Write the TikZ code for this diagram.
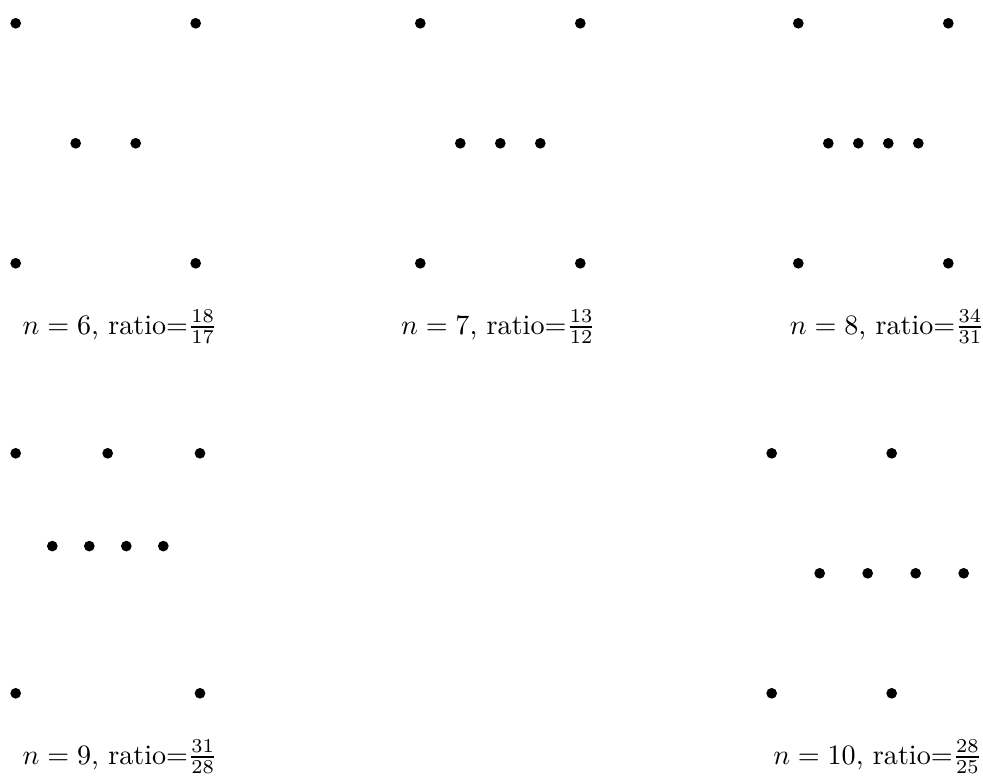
\documentclass[tikz,border=0pt]{standalone}
\begin{document}
\begin{tikzpicture}[vtx/.style={circle, fill=black, inner sep=0pt, minimum size=3.8pt}]

\useasboundingbox (0,0) rectangle (12.2875,-9.775);

\def\top{-0.291}
\def\low{-5.666}

% n = 6
\begin{scope}[shift={(0.196,\top)}]
\node[vtx] (s1) at (0,0) {};
\node[vtx] (s2) at (2.25,0) {};
\node[vtx] (s3) at (0,-3) {};
\node[vtx] (s4) at (2.25,-3) {};
\foreach \i in {1,2}
  \node[vtx] (sm\i) at (0.75*\i,-1.5) {};
\end{scope}
\node[anchor=base] (lab6) at (1.5,-4.175) {$n=6$, ratio=$\frac{18}{17}$};

% n = 7
\begin{scope}[shift={(5.254,\top)}]
\node[vtx] (t1) at (0,0) {};
\node[vtx] (t2) at (2,0) {};
\node[vtx] (t3) at (0,-3) {};
\node[vtx] (t4) at (2,-3) {};
\foreach \i in {1,2,3}
  \node[vtx] (tm\i) at (0.5*\i,-1.5) {};
\end{scope}
\node[anchor=base] (lab7) at (6.23,-4.175) {$n=7$, ratio=$\frac{13}{12}$};

% n = 8
\begin{scope}[shift={(9.979,\top)}]
\node[vtx] (e1) at (0,0) {};
\node[vtx] (e2) at (1.875,0) {};
\node[vtx] (e3) at (0,-3) {};
\node[vtx] (e4) at (1.875,-3) {};
\foreach \i in {1,...,4}
  \node[vtx] (em\i) at (0.375*\i,-1.5) {};
\end{scope}
\node[anchor=base] (lab8) at (11.09,-4.175) {$n=8$, ratio=$\frac{34}{31}$};

% n = 9
\begin{scope}[shift={(0.196,\low)}]
\node[vtx] (g1) at (0,0) {};
\node[vtx] (g2) at (1.15,0) {};
\node[vtx] (g3) at (2.304,0) {};
\node[vtx] (g4) at (0,-3) {};
\node[vtx] (g5) at (2.304,-3) {};
\foreach \i in {0,...,3}
  \node[vtx] (gm\i) at (0.458+0.4625*\i,-1.16) {};
\end{scope}
\node[anchor=base] (lab9) at (1.5,-9.55) {$n=9$, ratio=$\frac{31}{28}$};

% n = 10
\begin{scope}[shift={(9.646,\low)}]
\node[vtx] (d1) at (0,0) {};
\node[vtx] (d2) at (1.5,0) {};
\node[vtx] (d3) at (0,-3) {};
\node[vtx] (d4) at (1.5,-3) {};
\foreach \i in {1,...,4}
  \node[vtx] (dm\i) at (0.6*\i,-1.5) {};
\end{scope}
\node[anchor=base] (lab10) at (10.97,-9.55) {$n=10$, ratio=$\frac{28}{25}$};

\end{tikzpicture}
\end{document}
